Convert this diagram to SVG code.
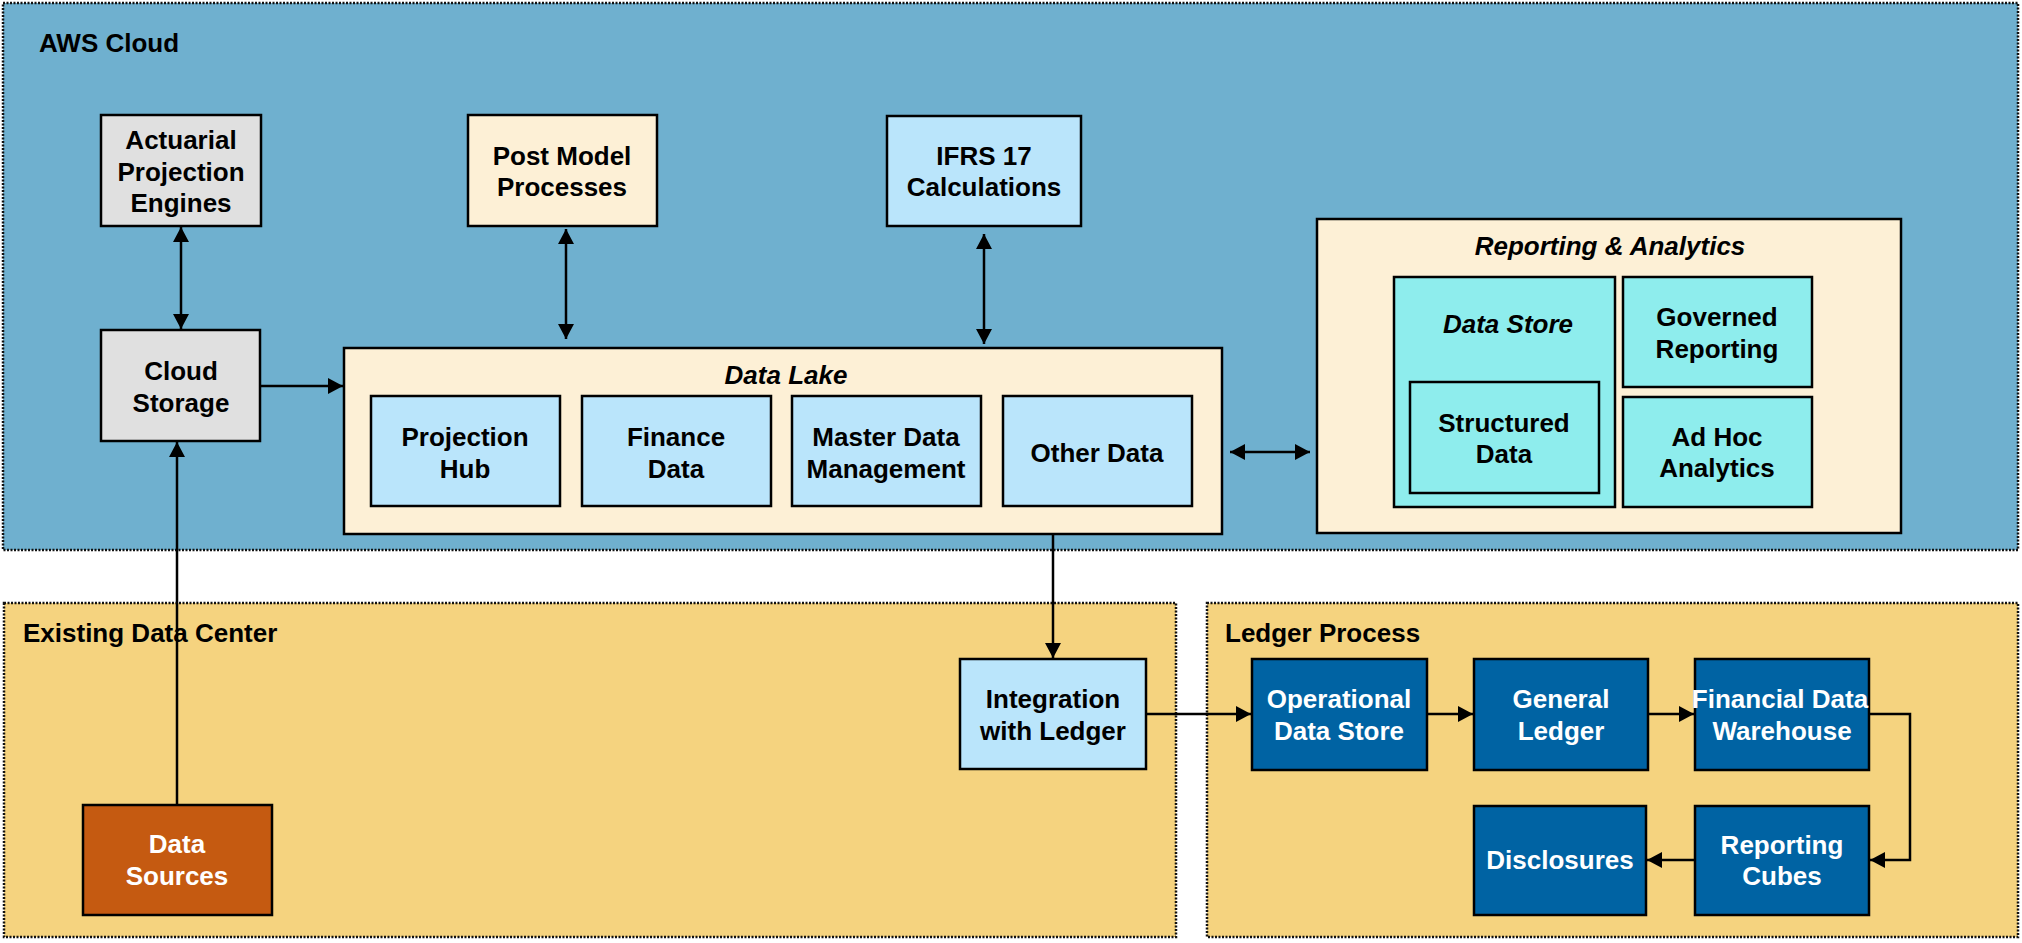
<svg xmlns="http://www.w3.org/2000/svg" width="2022" height="943" viewBox="0 0 2022 943">
<style>
text{font-family:"Liberation Sans",Arial,sans-serif;font-weight:bold;font-size:26px;text-anchor:middle;fill:#000}
.w{fill:#fff}
.it{font-style:italic}
.lbl{text-anchor:start}
.box{stroke:#000;stroke-width:2.5}
.cont{stroke:#111;stroke-width:2.5;stroke-dasharray:2 1.5}
.gray{fill:#E0E0E0}.cream{fill:#FDF0D6}.lb{fill:#BAE5FB}.cy{fill:#8EEDED}.or{fill:#C55A11}.db{fill:#0063A3}
.c{fill:none;stroke:#000;stroke-width:2.5}
</style>
<defs>
<marker id="ah" markerUnits="userSpaceOnUse" markerWidth="17" markerHeight="18" refX="15" refY="8" orient="auto-start-reverse" viewBox="0 0 17 16">
<path d="M0,0 L15,8 L0,16 z" fill="#000"/>
</marker>
</defs>
<rect width="2022" height="943" fill="#fff"/>
<g id="aws-cloud">
<rect x="3" y="3" width="2015" height="547" fill="#6FB0CF" class="cont"/>
<text x="39" y="52" class="lbl">AWS Cloud</text>
</g>
<g id="existing-data-center">
<rect x="4" y="603" width="1172" height="334" fill="#F5D37F" class="cont"/>
<text x="23" y="642" class="lbl">Existing Data Center</text>
</g>
<g id="ledger-process">
<rect x="1207" y="603" width="811" height="334" fill="#F5D37F" class="cont"/>
<text x="1225" y="642" class="lbl">Ledger Process</text>
</g>
<g id="actuarial">
<rect x="101" y="115" width="160" height="111" class="box gray"/>
<text x="181" y="149">Actuarial</text><text x="181" y="181">Projection</text><text x="181" y="212">Engines</text>
</g>
<g id="cloud-storage">
<rect x="101" y="330" width="159" height="111" class="box gray"/>
<text x="181" y="380">Cloud</text><text x="181" y="412">Storage</text>
</g>
<g id="post-model">
<rect x="468" y="115" width="189" height="111" class="box cream"/>
<text x="562" y="165">Post Model</text><text x="562" y="196">Processes</text>
</g>
<g id="ifrs17">
<rect x="887" y="116" width="194" height="110" class="box lb"/>
<text x="984" y="165">IFRS 17</text><text x="984" y="196">Calculations</text>
</g>
<g id="data-lake">
<rect x="344" y="348" width="878" height="186" class="box cream"/>
<text x="786" y="384" class="it">Data Lake</text>
</g>
<g id="projection-hub">
<rect x="371" y="396" width="189" height="110" class="box lb"/>
<text x="465" y="446">Projection</text><text x="465" y="478">Hub</text>
</g>
<g id="finance-data">
<rect x="582" y="396" width="189" height="110" class="box lb"/>
<text x="676" y="446">Finance</text><text x="676" y="478">Data</text>
</g>
<g id="master-data">
<rect x="792" y="396" width="189" height="110" class="box lb"/>
<text x="886" y="446">Master Data</text><text x="886" y="478">Management</text>
</g>
<g id="other-data">
<rect x="1003" y="396" width="189" height="110" class="box lb"/>
<text x="1097" y="462">Other Data</text>
</g>
<g id="reporting-analytics">
<rect x="1317" y="219" width="584" height="314" class="box cream"/>
<text x="1610" y="255" class="it">Reporting &amp; Analytics</text>
</g>
<g id="data-store">
<rect x="1394" y="277" width="221" height="230" class="box cy"/>
<text x="1508" y="333" class="it">Data Store</text>
</g>
<g id="structured-data">
<rect x="1410" y="382" width="189" height="111" class="box cy"/>
<text x="1504" y="432">Structured</text><text x="1504" y="463">Data</text>
</g>
<g id="governed-reporting">
<rect x="1623" y="277" width="189" height="110" class="box cy"/>
<text x="1717" y="326">Governed</text><text x="1717" y="358">Reporting</text>
</g>
<g id="adhoc-analytics">
<rect x="1623" y="397" width="189" height="110" class="box cy"/>
<text x="1717" y="446">Ad Hoc</text><text x="1717" y="477">Analytics</text>
</g>
<g id="data-sources">
<rect x="83" y="805" width="189" height="110" class="box or"/>
<text x="177" y="853" class="w">Data</text><text x="177" y="885" class="w">Sources</text>
</g>
<g id="integration-ledger">
<rect x="960" y="659" width="186" height="110" class="box lb"/>
<text x="1053" y="708">Integration</text><text x="1053" y="740">with Ledger</text>
</g>
<g id="ods">
<rect x="1252" y="659" width="175" height="111" class="box db"/>
<text x="1339" y="708" class="w">Operational</text><text x="1339" y="740" class="w">Data Store</text>
</g>
<g id="general-ledger">
<rect x="1474" y="659" width="174" height="111" class="box db"/>
<text x="1561" y="708" class="w">General</text><text x="1561" y="740" class="w">Ledger</text>
</g>
<g id="fdw">
<rect x="1695" y="659" width="174" height="111" class="box db"/>
<text x="1780" y="708" class="w">Financial Data</text><text x="1782" y="740" class="w">Warehouse</text>
</g>
<g id="disclosures">
<rect x="1474" y="806" width="172" height="109" class="box db"/>
<text x="1560" y="869" class="w">Disclosures</text>
</g>
<g id="reporting-cubes">
<rect x="1695" y="806" width="174" height="109" class="box db"/>
<text x="1782" y="854" class="w">Reporting</text><text x="1782" y="885" class="w">Cubes</text>
</g>
<g id="connectors">
<line x1="181" y1="227" x2="181" y2="329" class="c" marker-start="url(#ah)" marker-end="url(#ah)"/>
<line x1="566" y1="229" x2="566" y2="339" class="c" marker-start="url(#ah)" marker-end="url(#ah)"/>
<line x1="984" y1="234" x2="984" y2="344" class="c" marker-start="url(#ah)" marker-end="url(#ah)"/>
<line x1="260" y1="386" x2="343" y2="386" class="c" marker-end="url(#ah)"/>
<line x1="1230" y1="452" x2="1310" y2="452" class="c" marker-start="url(#ah)" marker-end="url(#ah)"/>
<line x1="177" y1="805" x2="177" y2="442" class="c" marker-end="url(#ah)"/>
<line x1="1053" y1="534" x2="1053" y2="658" class="c" marker-end="url(#ah)"/>
<line x1="1146" y1="714" x2="1251" y2="714" class="c" marker-end="url(#ah)"/>
<line x1="1427" y1="714" x2="1473" y2="714" class="c" marker-end="url(#ah)"/>
<line x1="1648" y1="714" x2="1694" y2="714" class="c" marker-end="url(#ah)"/>
<polyline points="1869,714 1910,714 1910,860 1870,860" class="c" marker-end="url(#ah)"/>
<line x1="1695" y1="860" x2="1647" y2="860" class="c" marker-end="url(#ah)"/>
</g>
</svg>
